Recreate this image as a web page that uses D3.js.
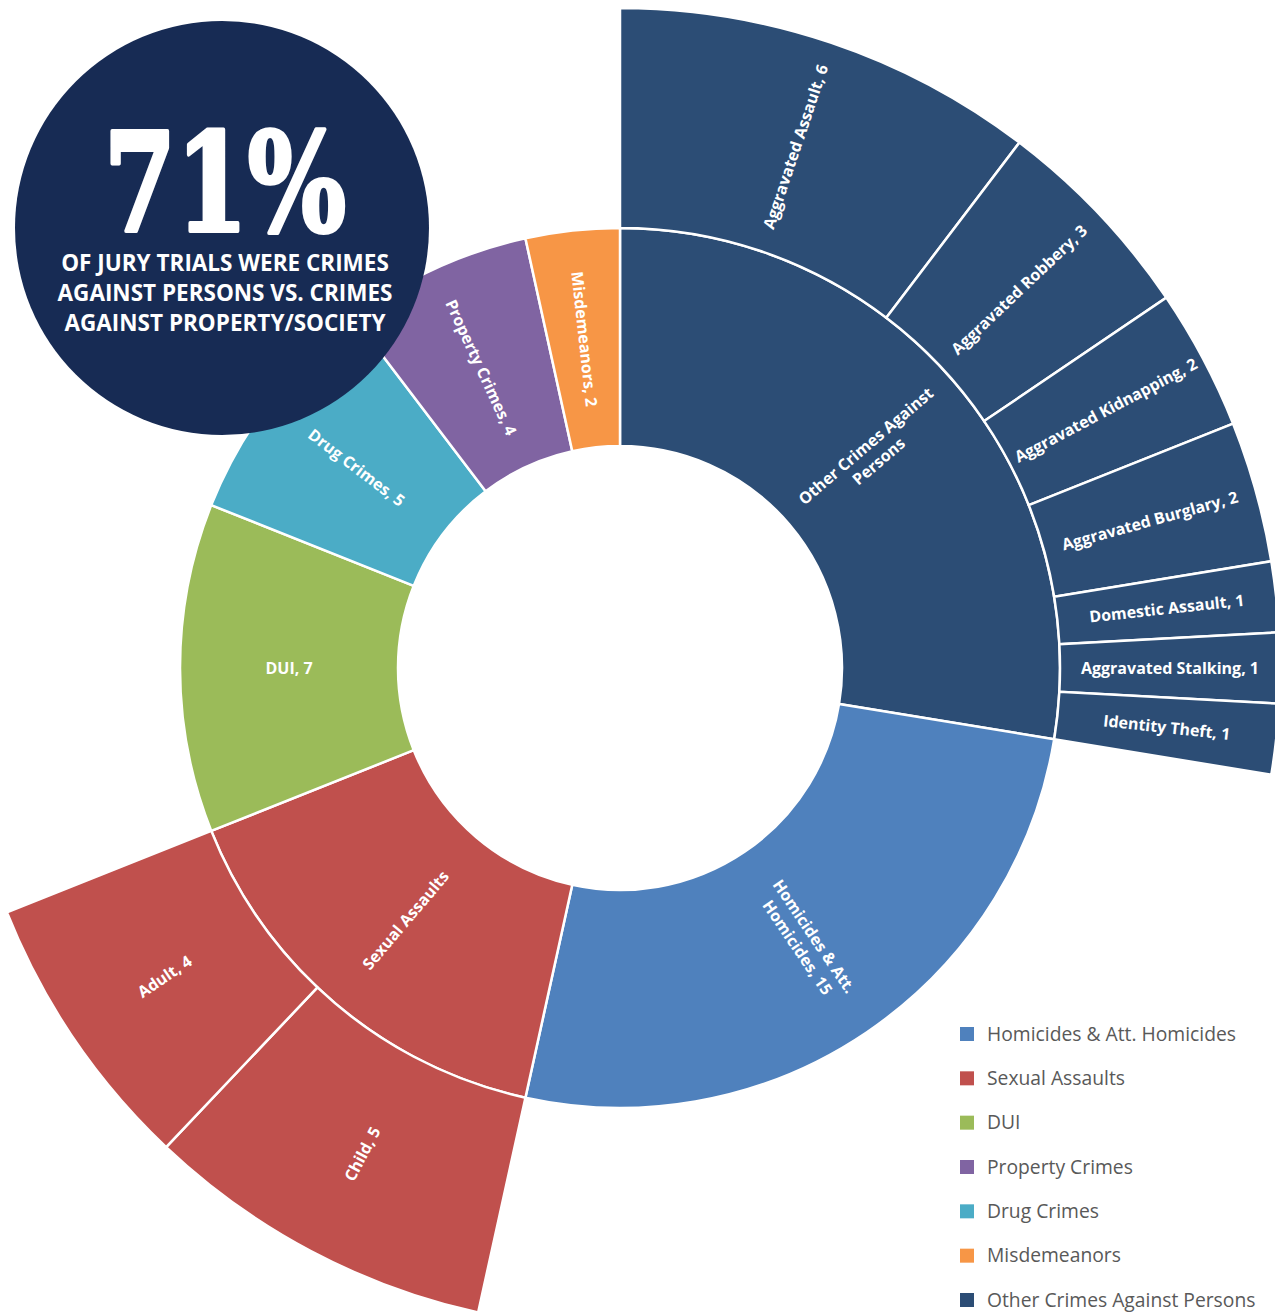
<!DOCTYPE html>
<html>
<head>
<meta charset="utf-8">
<script src="https://cdn.jsdelivr.net/npm/d3@7"></script>
<style>
  html, body { margin: 0; padding: 0; background: #fff; }
  svg { display: block; font-family: "Open Sans", sans-serif; }
</style>
</head>
<body>
<div id="chart"></div>
<script>
//----------------------------
// Jury trials sunburst
//----------------------------
const WIDTH = 1275;
const HEIGHT = 1315;

// inner ring, clockwise from 12 o'clock
const categories = ["Other Crimes Against Persons", "Homicides & Att. Homicides", "Sexual Assaults", "DUI", "Drug Crimes", "Property Crimes", "Misdemeanors"];
const categoryValues = [null, 15, null, 7, 5, 4, 2]; // null = sum of its children
const showValue = [false, true, false, true, true, true, true];

// outer ring
const otherCrimes = ["Aggravated Assault", "Aggravated Robbery", "Aggravated Kidnapping", "Aggravated Burglary", "Domestic Assault", "Aggravated Stalking", "Identity Theft"];
const otherValues = [6, 3, 2, 2, 1, 1, 1];
const sexualTypes = ["Child", "Adult"];
const sexualValues = [5, 4];

// legend order
const legendItems = ["Homicides & Att. Homicides", "Sexual Assaults", "DUI", "Property Crimes", "Drug Crimes", "Misdemeanors", "Other Crimes Against Persons"];

const colors = {
  "Homicides & Att. Homicides": "#4f81bd",
  "Sexual Assaults": "#c0504d",
  "DUI": "#9bbb59",
  "Property Crimes": "#8064a2",
  "Drug Crimes": "#4bacc6",
  "Misdemeanors": "#f79646",
  "Other Crimes Against Persons": "#2c4d75",
};

const badgePct = "71%";
const badgeLines = ["OF JURY TRIALS WERE CRIMES", "AGAINST PERSONS VS. CRIMES", "AGAINST PROPERTY/SOCIETY"];

// build the hierarchy from the arrays
const childrenOf = {
  "Other Crimes Against Persons": otherCrimes.map((n, i) => ({ name: n, value: otherValues[i] })),
  "Sexual Assaults": sexualTypes.map((n, i) => ({ name: n, value: sexualValues[i] })),
};
const treeData = {
  name: "root",
  children: categories.map((c, i) =>
    childrenOf[c] ? { name: c, children: childrenOf[c], showValue: showValue[i] }
                  : { name: c, value: categoryValues[i], showValue: showValue[i] }),
};

const root = d3.hierarchy(treeData).sum((d) => d.children ? 0 : d.value);
d3.partition().size([2 * Math.PI, 3])(root);

const cx = 620, cy = 668;
const radius = d3.scaleLinear().domain([1, 2, 3]).range([222, 440, 660]);

const svg = d3.select("#chart").append("svg")
  .attr("width", WIDTH)
  .attr("height", HEIGHT);

const g = svg.append("g").attr("transform", `translate(${cx},${cy})`);

const arc = d3.arc()
  .startAngle((d) => d.x0)
  .endAngle((d) => d.x1)
  .innerRadius((d) => radius(d.y0))
  .outerRadius((d) => radius(d.y1));

const topColor = (d) => colors[d.depth === 1 ? d.data.name : d.parent.data.name];

const nodes = root.descendants().filter((d) => d.depth > 0);

g.selectAll("path.seg")
  .data(nodes)
  .enter()
  .append("path")
  .attr("class", "seg")
  .attr("d", arc)
  .attr("fill", topColor)
  .attr("stroke", "#fff")
  .attr("stroke-width", 2.5)
  .attr("stroke-linejoin", "miter");

// labels run along the radius, flipped on the left half
const labelText = (d) => {
  const show = d.depth === 2 || d.data.showValue;
  return show ? `${d.data.name}, ${d.value}` : d.data.name;
};

const labels = g.selectAll("text.lbl")
  .data(nodes)
  .enter()
  .append("text")
  .attr("class", "lbl")
  .attr("transform", (d) => {
    const a = ((d.x0 + d.x1) / 2) * 180 / Math.PI;
    const r = radius((d.y0 + d.y1) / 2);
    return `rotate(${a - 90}) translate(${r},0) rotate(${a < 180 ? 0 : 180})`;
  })
  .attr("text-anchor", "middle")
  .attr("fill", "#fff")
  .attr("font-size", 16)
  .attr("font-weight", 700);

// simple word wrap
labels.each(function (d) {
  const el = d3.select(this);
  const maxW = d.depth === 1 ? 185 : 240;
  const words = labelText(d).split(" ");
  const lines = [];
  let line = [];
  const probe = el.append("tspan");
  words.forEach((w) => {
    probe.text(line.concat(w).join(" "));
    if (probe.node().getComputedTextLength() > maxW && line.length) {
      lines.push(line.join(" "));
      line = [w];
    } else {
      line.push(w);
    }
  });
  lines.push(line.join(" "));
  probe.remove();
  const lh = 20;
  lines.forEach((l, i) => {
    el.append("tspan")
      .attr("x", 0)
      .attr("y", (i - (lines.length - 1) / 2) * lh)
      .attr("dy", "0.35em")
      .text(l);
  });
});

// badge
const badge = svg.append("g").attr("transform", "translate(222,228)");
badge.append("circle").attr("r", 207).attr("fill", "#172b54");
badge.append("text")
  .attr("x", 3)
  .attr("y", 3)
  .attr("text-anchor", "middle")
  .attr("fill", "#fff")
  .attr("stroke", "#fff")
  .attr("stroke-width", 4)
  .attr("stroke-linejoin", "round")
  .attr("font-family", "'DejaVu Serif Condensed', 'DejaVu Serif', serif")
  .attr("font-weight", 700)
  .attr("font-size", 136)
  .attr("textLength", 242)
  .attr("lengthAdjust", "spacingAndGlyphs")
  .text(badgePct);
badge.selectAll("text.sub")
  .data(badgeLines)
  .enter()
  .append("text")
  .attr("class", "sub")
  .attr("x", 3)
  .attr("y", (d, i) => 43 + i * 30)
  .attr("text-anchor", "middle")
  .attr("fill", "#fff")
  .attr("font-weight", 700)
  .attr("font-size", 22.5)
  .text((d) => d);

// legend
const legendY = d3.scalePoint().domain(legendItems).range([1034, 1300]);
const legend = svg.append("g");
const item = legend.selectAll("g")
  .data(legendItems)
  .enter()
  .append("g")
  .attr("transform", (d) => `translate(960,${legendY(d)})`);
item.append("rect")
  .attr("x", 0)
  .attr("y", -7)
  .attr("width", 14)
  .attr("height", 14)
  .attr("fill", (d) => colors[d]);
item.append("text")
  .attr("x", 27)
  .attr("dy", "0.35em")
  .attr("fill", "#595959")
  .attr("font-size", 19.3)
  .text((d) => d);
</script>
</body>
</html>
